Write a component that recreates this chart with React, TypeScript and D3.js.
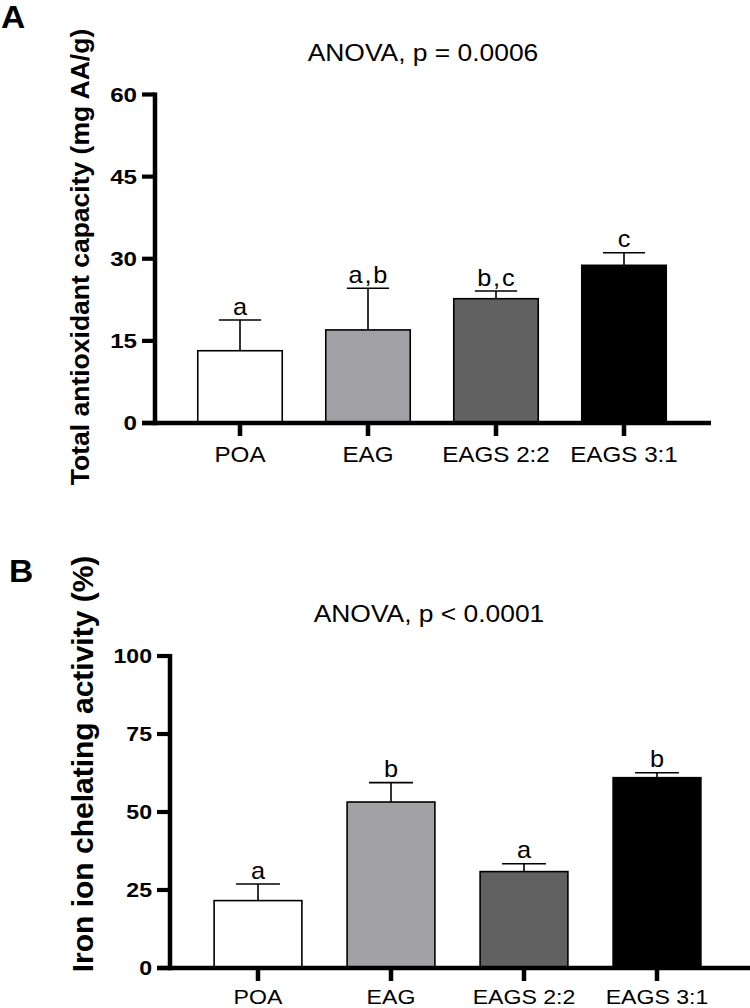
import React from "react";
import * as d3 from "d3";

const categories = ["POA", "EAG", "EAGS 2:2", "EAGS 3:1"];
const barFills = ["#ffffff", "#a2a2a6", "#616161", "#000000"];

const tacMean = [13.2, 17.0, 22.7, 28.8];
const tacSD = [5.6, 7.6, 1.4, 2.3];
const tacLetters = ["a", "a,b", "b,c", "c"];
const tacTicks = [0, 15, 30, 45, 60];

const ironMean = [21.6, 53.2, 30.9, 61.0];
const ironSD = [5.3, 6.2, 2.5, 1.6];
const ironLetters = ["a", "b", "a", "b"];
const ironTicks = [0, 25, 50, 75, 100];

const FONT = "Arial, 'Liberation Sans', Helvetica, sans-serif";
const SX = 1.1;

function T({ x, y, size, weight = "normal", anchor = "middle", rotate = 0, sx = SX, children, ls = 0 }: any) {
  const tr = `translate(${x},${y}) scale(${sx},1)` + (rotate ? ` rotate(${rotate})` : "");
  return (
    <text
      transform={tr}
      fontFamily={FONT}
      fontSize={size}
      fontWeight={weight}
      textAnchor={anchor}
      letterSpacing={ls}
      fill="#000"
    >
      {children}
    </text>
  );
}

function Panel({ cfg }: any) {
  const y = d3.scaleLinear().domain([0, cfg.max]).range([cfg.y0, cfg.yTop]);
  const x = d3
    .scaleBand<string>()
    .domain(categories)
    .range(cfg.xRange)
    .paddingInner(0.34)
    .paddingOuter(0.17);
  const bw = x.bandwidth();
  const ax = cfg.axisX;
  const tickLen = 13;
  return (
    <g>
      <T x={cfg.letterX} y={cfg.letterY} size={32} weight="bold" anchor="start" sx={1.05}>
        {cfg.letter}
      </T>
      <T x={cfg.titleX} y={cfg.titleY} size={24}>
        {cfg.title}
      </T>
      {categories.map((c, i) => (
        <rect
          key={c}
          x={x(c)}
          y={y(cfg.mean[i])}
          width={bw}
          height={y(0) - y(cfg.mean[i])}
          fill={barFills[i]}
          stroke="#000"
          strokeWidth={1.6}
        />
      ))}
      {categories.map((c, i) => {
        const cx = (x(c) as number) + bw / 2;
        const top = y(cfg.mean[i] + cfg.sd[i]);
        return (
          <g key={"e" + c} stroke="#000" strokeWidth={1.6}>
            <line x1={cx} x2={cx} y1={y(cfg.mean[i])} y2={top} />
            <line x1={cx - bw / 4} x2={cx + bw / 4} y1={top} y2={top} />
          </g>
        );
      })}
      {categories.map((c, i) => {
        const cx = (x(c) as number) + bw / 2;
        const top = y(cfg.mean[i] + cfg.sd[i]);
        const lab = cfg.letters[i];
        return (
          <T key={"l" + c} x={cx + (lab.length > 1 ? 0.8 : 0)} y={top - 5.5} size={23} ls={lab.length > 1 ? 1.6 : 0}>
            {lab}
          </T>
        );
      })}
      <line x1={ax} x2={ax} y1={y(0) + 2.2} y2={y(cfg.max) - 2} stroke="#000" strokeWidth={4.5} />
      {cfg.ticks.map((t: number) => (
        <g key={"t" + t}>
          <line x1={ax - tickLen} x2={ax} y1={y(t)} y2={y(t)} stroke="#000" strokeWidth={4.2} />
          <T x={ax - tickLen - 5} y={y(t) + 7.3} size={21} weight="bold" anchor="end" sx={cfg.tickSX}>
            {t}
          </T>
        </g>
      ))}
      <line x1={ax - tickLen} x2={cfg.xEnd} y1={y(0)} y2={y(0)} stroke="#000" strokeWidth={4.5} />
      {categories.map((c) => {
        const cx = (x(c) as number) + bw / 2;
        return (
          <g key={"x" + c}>
            <line x1={cx} x2={cx} y1={y(0)} y2={y(0) + tickLen} stroke="#000" strokeWidth={4.5} />
            <T x={cx} y={cfg.xLabelY} size={cfg.xLabelSize}>
              {c}
            </T>
          </g>
        );
      })}
      <T x={cfg.yLabelX} y={cfg.yLabelY} size={cfg.yLabelSize} weight="bold" rotate={-90} sx={1}>
        {cfg.yLabel}
      </T>
    </g>
  );
}

const panelA = {
  letter: "A",
  letterX: 1,
  letterY: 28,
  title: "ANOVA, p = 0.0006",
  titleX: 423,
  titleY: 61,
  max: 60,
  y0: 423,
  yTop: 94.5,
  xRange: [176, 688],
  axisX: 155,
  xEnd: 711,
  mean: tacMean,
  sd: tacSD,
  letters: tacLetters,
  ticks: tacTicks,
  tickSX: 1.15,
  xLabelY: 462,
  xLabelSize: 22,
  yLabel: "Total antioxidant capacity (mg AA/g)",
  yLabelX: 89,
  yLabelY: 257,
  yLabelSize: 26.5,
};

const panelB = {
  letter: "B",
  letterX: 9,
  letterY: 582,
  title: "ANOVA, p < 0.0001",
  titleX: 429,
  titleY: 622,
  max: 100,
  y0: 968,
  yTop: 656,
  xRange: [191.5, 723.5],
  axisX: 170,
  xEnd: 750,
  mean: ironMean,
  sd: ironSD,
  letters: ironLetters,
  ticks: ironTicks,
  tickSX: 1.1,
  xLabelY: 1003.5,
  xLabelSize: 21,
  yLabel: "Iron ion chelating activity (%)",
  yLabelX: 93,
  yLabelY: 764,
  yLabelSize: 30,
};

export default function App() {
  return (
    <svg
      width={750}
      height={1008}
      viewBox="0 0 750 1008"
      style={{ position: "absolute", left: 0, top: 0, background: "#fff" }}
    >
      <rect x={0} y={0} width={750} height={1008} fill="#fff" />
      <Panel cfg={panelA} />
      <Panel cfg={panelB} />
    </svg>
  );
}
